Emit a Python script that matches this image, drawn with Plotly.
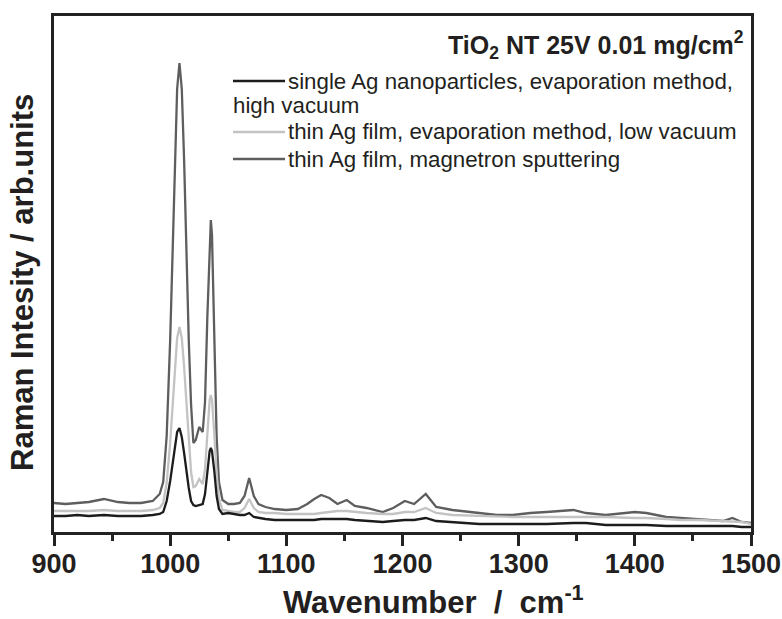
import plotly.graph_objects as go

# ---------------- data ----------------
wavenumber = [
    900, 910, 920, 930, 943, 955, 965, 975, 985, 991,
    994, 997, 1000, 1002, 1004, 1006, 1008, 1010, 1012, 1014,
    1016, 1018, 1020, 1022, 1025, 1028, 1030, 1032, 1034, 1035,
    1036, 1038, 1040, 1042, 1045, 1050, 1055, 1060, 1064, 1068,
    1072, 1076, 1082, 1090, 1100, 1110, 1118, 1124, 1130, 1137,
    1144, 1152, 1159, 1169, 1183, 1192, 1202, 1210, 1220, 1229,
    1243, 1266, 1281, 1295, 1310, 1324, 1347, 1358, 1375, 1400,
    1410, 1427, 1440, 1455, 1476, 1484, 1492, 1500,
]

# single Ag nanoparticles, evaporation method, high vacuum (black)
single_np_high_vac = [
    16, 16, 17, 16, 17, 16, 16, 16, 17, 18,
    20, 31, 51, 69, 86, 100, 104, 95, 79, 60,
    44, 31, 27, 26, 27, 28, 38, 61, 81, 84,
    81, 61, 36, 23, 18, 19, 18, 17, 17, 19,
    15, 14, 13, 12, 12, 12, 12, 12, 13, 13,
    13, 13, 12, 11, 10, 11, 12, 12, 14, 11,
    10, 8, 8, 8, 8, 8, 9, 9, 7, 7,
    7, 6, 6, 6, 6, 6, 5, 5,
]

# thin Ag film, evaporation method, low vacuum (light grey)
thin_film_low_vac = [
    21, 21, 21, 21, 22, 21, 21, 21, 22, 24,
    29, 49, 89, 126, 165, 194, 205, 194, 165, 126,
    89, 60, 45, 46, 53, 48, 63, 101, 132, 137,
    132, 98, 58, 33, 22, 21, 20, 20, 24, 33,
    24, 20, 19, 19, 18, 18, 18, 18, 19, 20,
    21, 21, 20, 19, 18, 18, 20, 20, 24, 19,
    17, 16, 16, 15, 15, 15, 15, 15, 15, 14,
    14, 13, 12, 12, 11, 11, 10, 8,
]

# thin Ag film, magnetron sputtering (dark grey)
thin_film_magnetron = [
    29, 28, 29, 30, 33, 30, 29, 29, 31, 38,
    50, 96, 192, 280, 372, 443, 469, 443, 372, 280,
    192, 127, 89, 92, 105, 100, 130, 215, 297, 312,
    297, 200, 95, 50, 32, 28, 28, 29, 36, 54,
    36, 28, 25, 23, 22, 23, 28, 33, 37, 34,
    28, 32, 26, 24, 20, 24, 31, 28, 38, 25,
    22, 19, 17, 17, 19, 20, 22, 19, 17, 20,
    19, 15, 14, 13, 11, 14, 10, 9,
]

series_names = [
    "single Ag nanoparticles, evaporation method,",
    "thin Ag film, evaporation method, low vacuum",
    "thin Ag film, magnetron sputtering",
]
series_colors = ["#1c1c1c", "#c3c3c3", "#5e5e5e"]
x_major_ticks = [900, 1000, 1100, 1200, 1300, 1400, 1500]
x_minor_ticks = [950, 1050, 1150, 1250, 1350, 1450]

# ---------------- figure ----------------
W, H = 782, 619
ML, MR, MT, MB = 54, 31, 16, 87
PW, PH = W - ML - MR, H - MT - MB

def px(xp):
    return (xp - ML) / PW

def py(yp):
    return (H - MB - yp) / PH

fig = go.Figure()
for ys, name, col in [
    (thin_film_magnetron, series_names[2], series_colors[2]),
    (thin_film_low_vac, series_names[1], series_colors[1]),
    (single_np_high_vac, series_names[0], series_colors[0]),
]:
    fig.add_trace(go.Scatter(x=wavenumber, y=ys, mode="lines", name=name,
                             line=dict(color=col, width=2.3), showlegend=False))

axis_col = "#222222"
txt_col = "#231f20"
fig.update_layout(
    width=W, height=H,
    margin=dict(l=ML, r=MR, t=MT, b=MB, autoexpand=False),
    plot_bgcolor="white", paper_bgcolor="white",
    font=dict(family="Liberation Sans, Arial, sans-serif", color=txt_col),
    xaxis=dict(
        range=[900, 1500], tickvals=x_major_ticks, automargin=False,
        ticks="outside", ticklen=11, tickwidth=2.5, tickcolor=axis_col,
        ticklabelstandoff=-5,
        showline=True, linewidth=2.5, linecolor=axis_col, mirror=True,
        showgrid=False, zeroline=False,
        tickfont=dict(size=27, weight="bold", color=txt_col),
        minor=dict(tickvals=x_minor_ticks, ticks="outside", ticklen=6,
                   tickwidth=2.5, tickcolor=axis_col),
    ),
    yaxis=dict(
        range=[0, 516], showticklabels=False, ticks="", automargin=False,
        showline=True, linewidth=2.5, linecolor=axis_col, mirror=True,
        showgrid=False, zeroline=False,
    ),
)

# axis titles
fig.add_annotation(xref="paper", yref="paper", x=px(281), y=py(600),
                   xanchor="left", yanchor="middle", showarrow=False,
                   text="<b>Wavenumber  /  cm<sup>-1</sup></b>",
                   font=dict(size=31, color=txt_col))
fig.add_annotation(xref="paper", yref="paper", x=px(22), y=py(283),
                   xanchor="center", yanchor="middle", showarrow=False,
                   textangle=-90,
                   text="<b>Raman Intesity / arb.units</b>",
                   font=dict(size=31, color=txt_col))

# header text
fig.add_annotation(xref="paper", yref="paper", x=px(746), y=py(45),
                   xanchor="right", yanchor="middle", showarrow=False,
                   text="<b>TiO<sub>2</sub> NT 25V 0.01 mg/cm<sup>2</sup></b>",
                   font=dict(size=25, color=txt_col))

# legend (line samples + labels)
rows = [81, 106, 132, 159]
legend_items = [(rows[0], series_names[0], series_colors[0]),
                (rows[2], series_names[1], series_colors[1]),
                (rows[3], series_names[2], series_colors[2])]
for yrow, label, col in legend_items:
    fig.add_shape(type="line", xref="paper", yref="paper",
                  x0=px(233), x1=px(285), y0=py(yrow), y1=py(yrow),
                  line=dict(color=col, width=2.5))
    fig.add_annotation(xref="paper", yref="paper", x=px(286), y=py(yrow),
                       xanchor="left", yanchor="middle", showarrow=False,
                       text=label, font=dict(size=22.3, color=txt_col))
fig.add_annotation(xref="paper", yref="paper", x=px(231), y=py(rows[1]),
                   xanchor="left", yanchor="middle", showarrow=False,
                   text="high vacuum", font=dict(size=22.3, color=txt_col))

fig.write_html(
    "out.html",
    config={"displayModeBar": False},
    post_script="document.body.style.margin='0';document.body.style.overflow='hidden';",
)
